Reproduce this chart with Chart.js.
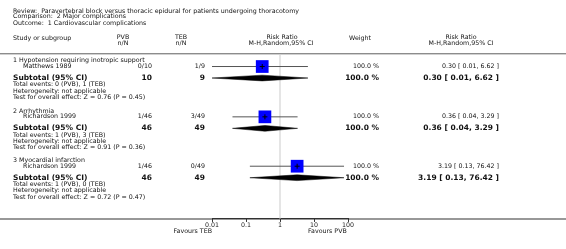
<!DOCTYPE html>
<html>
<head>
<meta charset="utf-8">
<script src="https://cdn.jsdelivr.net/npm/chart.js@4/dist/chart.umd.min.js"></script>
<style>
  html, body { margin: 0; padding: 0; background: #fff; }
  #wrap { width: 566px; height: 249px; }
</style>
</head>
<body>
<div id="wrap"><canvas id="forest" width="566" height="249"></canvas></div>
<script>
// Data
const groupNames = ['1 Hypotension requiring inotropic support', '2 Arrhythmia', '3 Myocardial infarction'];
const studyNames = ['Matthews 1989', 'Richardson 1999', 'Richardson 1999'];
const pvbEvents = [0, 1, 1];
const pvbTotals = [10, 46, 46];
const tebEvents = [1, 3, 0];
const tebTotals = [9, 49, 49];
const riskRatio = [0.30, 0.36, 3.19];
const ciLow = [0.01, 0.04, 0.13];
const ciHigh = [6.62, 3.29, 76.42];
const weights = [100.0, 100.0, 100.0];
const subRatio = [0.30, 0.36, 3.19];
const subLow = [0.01, 0.04, 0.13];
const subHigh = [6.62, 3.29, 76.42];
const zValues = [0.76, 0.91, 0.72];
const pValues = [0.45, 0.36, 0.47];
const xTicks = [0.01, 0.1, 1, 10, 100];

// Layout (row positions on the page, in y-scale units)
const groupTop = [54, 106.5, 158];
const offs = { study: 6, subtotal: 18, events: 25, het: 31.5, test: 38 };
const FONT = '"DejaVu Sans", Verdana, sans-serif';
const diamondHalf = 3;

const fmt2 = v => v.toFixed(2);
const ciText = (r, l, h) => fmt2(r) + ' [ ' + fmt2(l) + ', ' + fmt2(h) + ' ]';

// Build datasets
const crossPts = [], squarePts = [];
const ciSets = [], diamondSets = [];
for (let i = 0; i < groupNames.length; i++) {
    const ys = groupTop[i] + offs.study;
    const yd = groupTop[i] + offs.subtotal;
    squarePts.push({ x: riskRatio[i], y: ys });
    crossPts.push({ x: riskRatio[i], y: ys });
    ciSets.push({
        data: [{ x: ciLow[i], y: ys }, { x: ciHigh[i], y: ys }],
        showLine: true, borderColor: '#555', borderWidth: 1, pointRadius: 0
    });
    diamondSets.push({
        data: [
            { x: subLow[i], y: yd },
            { x: subRatio[i], y: yd - diamondHalf },
            { x: subHigh[i], y: yd },
            { x: subRatio[i], y: yd + diamondHalf },
            { x: subLow[i], y: yd }
        ],
        showLine: true, fill: 'shape', tension: 0,
        backgroundColor: '#000', borderColor: '#000', borderWidth: 0.5, pointRadius: 0
    });
}

const datasets = [
    { data: crossPts, pointStyle: 'cross', pointRadius: 2.5, borderColor: '#000', borderWidth: 1, backgroundColor: '#000' },
    { data: squarePts, pointStyle: 'rect', pointRadius: 9, backgroundColor: '#0000ff', borderWidth: 0 }
].concat(ciSets, diamondSets);

function txt(ctx, s, x, y, align, bold, size) {
    ctx.font = (bold ? 'bold ' : '') + size + 'px ' + FONT;
    ctx.textAlign = align || 'left';
    ctx.textBaseline = 'middle';
    ctx.fillText(s, x, y);
}

const decorPlugin = {
    id: 'decor',
    beforeDatasetsDraw(chart) {
        const ctx = chart.ctx;
        const xs = chart.scales.x, ya = chart.scales.y;
        const area = chart.chartArea;
        ctx.save();
        // line of no effect
        ctx.strokeStyle = '#dcdcdc';
        ctx.lineWidth = 1.5;
        ctx.beginPath();
        const x1 = xs.getPixelForValue(1);
        ctx.moveTo(x1, ya.getPixelForValue(48));
        ctx.lineTo(x1, area.bottom);
        ctx.stroke();
        ctx.restore();
    },
    afterDraw(chart) {
        const ctx = chart.ctx;
        const xs = chart.scales.x, ya = chart.scales.y;
        const area = chart.chartArea;
        const W = chart.width;
        ctx.save();
        ctx.fillStyle = '#111';
        const sm = 6.3, bd = 7.5;

        txt(ctx, 'Review:  Paravertebral block versus thoracic epidural for patients undergoing thoracotomy', 13, 11, 'left', false, sm);
        txt(ctx, 'Comparison:  2 Major complications', 13, 16.8, 'left', false, sm);
        txt(ctx, 'Outcome:  1 Cardiovascular complications', 13, 23.3, 'left', false, sm);

        txt(ctx, 'Study or subgroup', 13, 38, 'left', false, sm);
        txt(ctx, 'PVB', 123, 37.5, 'center', false, sm);
        txt(ctx, 'n/N', 123, 43, 'center', false, sm);
        txt(ctx, 'TEB', 181, 37.5, 'center', false, sm);
        txt(ctx, 'n/N', 181, 43, 'center', false, sm);
        txt(ctx, 'Risk Ratio', 282, 37.5, 'center', false, sm);
        txt(ctx, 'M-H,Random,95% CI', 281, 43, 'center', false, sm);
        txt(ctx, 'Weight', 360, 38, 'center', false, sm);
        txt(ctx, 'Risk Ratio', 461, 37.5, 'center', false, sm);
        txt(ctx, 'M-H,Random,95% CI', 461, 43, 'center', false, sm);

        // header separator
        ctx.fillStyle = '#8c8c8c';
        ctx.fillRect(0, Math.round(ya.getPixelForValue(46)), W, 1);
        ctx.fillStyle = '#d0d0d0';
        ctx.fillRect(0, Math.round(ya.getPixelForValue(47)), W, 1);
        ctx.fillStyle = '#111';

        for (let i = 0; i < groupNames.length; i++) {
            const g = groupTop[i];
            const y = v => ya.getPixelForValue(g + v);
            txt(ctx, groupNames[i], 13, y(0), 'left', false, sm);
            txt(ctx, studyNames[i], 23, y(offs.study), 'left', false, sm);
            txt(ctx, pvbEvents[i] + '/' + pvbTotals[i], 152, y(offs.study), 'right', false, sm);
            txt(ctx, tebEvents[i] + '/' + tebTotals[i], 205, y(offs.study), 'right', false, sm);
            txt(ctx, weights[i].toFixed(1) + ' %', 379, y(offs.study), 'right', false, sm);
            txt(ctx, ciText(riskRatio[i], ciLow[i], ciHigh[i]), 499, y(offs.study), 'right', false, sm);

            txt(ctx, 'Subtotal (95% CI)', 13, y(offs.subtotal), 'left', true, bd);
            txt(ctx, String(pvbTotals[i]), 152, y(offs.subtotal), 'right', true, bd);
            txt(ctx, String(tebTotals[i]), 205, y(offs.subtotal), 'right', true, bd);
            txt(ctx, weights[i].toFixed(1) + ' %', 379, y(offs.subtotal), 'right', true, bd);
            txt(ctx, ciText(subRatio[i], subLow[i], subHigh[i]), 499, y(offs.subtotal), 'right', true, bd);

            txt(ctx, 'Total events: ' + pvbEvents[i] + ' (PVB), ' + tebEvents[i] + ' (TEB)', 13, y(offs.events), 'left', false, sm);
            txt(ctx, 'Heterogeneity: not applicable', 13, y(offs.het), 'left', false, sm);
            txt(ctx, 'Test for overall effect: Z = ' + zValues[i].toFixed(2) + ' (P = ' + pValues[i].toFixed(2) + ')', 13, y(offs.test), 'left', false, sm);
        }

        // full width axis line
        ctx.fillStyle = '#333';
        ctx.fillRect(0, Math.round(area.bottom) - 0.5, W, 1);

        ctx.fillStyle = '#111';
        txt(ctx, 'Favours TEB', xs.getPixelForValue(0.01), 231, 'right', false, sm);
        txt(ctx, 'Favours PVB', xs.getPixelForValue(10) - 6, 231, 'left', false, sm);
        ctx.restore();
    }
};

new Chart(document.getElementById('forest'), {
    type: 'scatter',
    data: { datasets: datasets },
    options: {
        responsive: false,
        animation: false,
        devicePixelRatio: 1,
        layout: { padding: { left: 212, right: 218, top: 0, bottom: 19.5 } },
        plugins: { legend: { display: false }, tooltip: { enabled: false } },
        scales: {
            x: {
                type: 'logarithmic',
                min: 0.01,
                max: 100,
                afterBuildTicks: function(axis) {
                    axis.ticks = xTicks.map(v => ({ value: v }));
                },
                ticks: {
                    autoSkip: false,
                    maxRotation: 0,
                    padding: 0,
                    color: '#222',
                    font: { family: FONT, size: 6.3 },
                    callback: function(v) { return String(v); }
                },
                grid: { drawOnChartArea: false, tickLength: 3, color: '#333' },
                border: { display: true, color: '#333' }
            },
            y: {
                type: 'linear',
                reverse: true,
                min: 0,
                max: 219,
                display: false
            }
        }
    },
    plugins: [decorPlugin]
});
</script>
</body>
</html>
